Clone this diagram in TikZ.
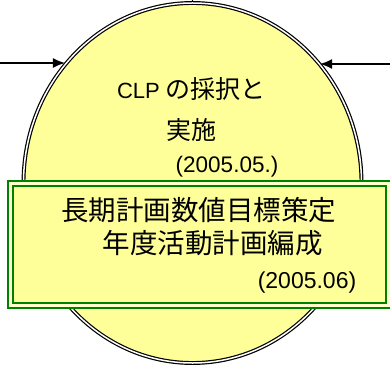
\documentclass[tikz,border=0pt]{standalone}
\usepackage{fontspec}
\setmainfont{Liberation Sans}
\newfontfamily\jp{Noto Sans CJK JP}
\usetikzlibrary{shapes.geometric,arrows.meta}
\definecolor{paleyellow}{HTML}{FFFF99}
\definecolor{lightyellow}{HTML}{FFFFCC}
\definecolor{boxgreen}{HTML}{008000}
\tikzset{
    phase/.style={ellipse, draw=black, line width=1.2pt, double=white, double distance=1.5pt,
        fill=paleyellow, minimum width=338pt, minimum height=360pt, inner sep=0pt},
    planbox/.style={rectangle, draw=boxgreen, line width=2pt, double=lightyellow, double distance=3pt,
        fill=paleyellow, minimum width=378pt, minimum height=122pt, inner sep=0pt},
    txt/.style={inner sep=0pt, anchor=base},
    flow/.style={->, line width=1.3pt}
}
\begin{document}
\begin{tikzpicture}[x=1pt, y=1pt, >={Latex[length=12pt,width=10pt]}]
    \useasboundingbox (0,0) rectangle (390,367);
    \node[phase] (clp) at (192.5,184) {};
    \coordinate (inL) at (0,304);
    \coordinate (inR) at (390,303);
    \coordinate (inT) at (192.5,420);
    \draw[flow] (inL) -- (inL -| clp.137);
    \draw[flow] (inR) -- (inR -| clp.43);
    \draw[flow] (inT) -- (clp.north);

    \node[txt] (clp1) at (191.5,268) {\fontsize{22}{26}\selectfont CLP {\jp\fontsize{25}{30}\selectfont の採択と}};
    \node[txt] (clp2) at (191.5,227) {\jp\fontsize{25}{30}\selectfont 実施};
    \node[txt] (clp3) at (227,194.5) {\fontsize{22.5}{26}\selectfont (2005.05.)};

    \node[planbox] (plan) at (199.5,122.5) {};
    \node[txt] (plan1) at (198.5,147) {\jp\fontsize{27.5}{30}\selectfont 長期計画数値目標策定};
    \node[txt] (plan2) at (212.5,114) {\jp\fontsize{27.5}{30}\selectfont 年度活動計画編成};
    \node[txt] (plan3) at (307,78.5) {\fontsize{23}{26}\selectfont (2005.06)};
\end{tikzpicture}
\end{document}
